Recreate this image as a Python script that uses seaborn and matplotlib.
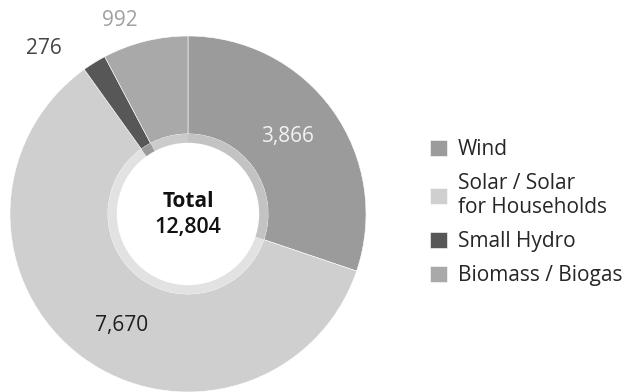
import numpy as np
import matplotlib
matplotlib.use('Agg')
import matplotlib.pyplot as plt
import seaborn as sns
from matplotlib.colors import to_rgb

# capacity by source (donut, clockwise from top)
sources = ['Wind', 'Solar / Solar\nfor Households', 'Small Hydro', 'Biomass / Biogas']
values = [3866, 7670, 276, 992]
value_labels = ['3,866', '7,670', '276', '992']

colors = ['#9b9b9b', '#cfcfcf', '#575757', '#a9a9a9']
label_colors = ['#f2f2f2', '#1e1e1e', '#444444', '#a0a0a0']

sns.set_theme(style='white')
plt.rcParams['font.family'] = ['Open Sans', 'DejaVu Sans']

fig = plt.figure(figsize=(6.29, 3.92), dpi=100)

# place the donut: centre at (188, 214) px, radius 178 px
R_PX = 178
span = 1.2
cx, cy = 188, 392 - 214
w = 2 * span * R_PX
ax = fig.add_axes([(cx - w / 2) / 629, (cy - w / 2) / 392, w / 629, w / 392])

wedges, _ = ax.pie(values, colors=colors, startangle=90, counterclock=False,
                   radius=1.0, wedgeprops=dict(width=0.55, edgecolor='white', linewidth=0.4))

# thin lighter ring just around the white centre
def lighten(c, f):
    r, g, b = to_rgb(c)
    return (r + (1 - r) * f, g + (1 - g) * f, b + (1 - b) * f)

ax.pie(values, colors=[lighten(c, 0.4) for c in colors], startangle=90, counterclock=False,
       radius=0.45, wedgeprops=dict(width=0.056, edgecolor='none'))
ax.add_patch(plt.Circle((0, 0), 0.396, color='white', zorder=3))
ax.set_xlim(-span, span)
ax.set_ylim(-span, span)
ax.set_axis_off()

ax.text(0, 0.07, 'Total', ha='center', va='center', fontsize=15, fontweight='bold', color='#111111', zorder=4)
ax.text(0, -0.075, '12,804', ha='center', va='center', fontsize=15.5, fontweight='semibold',
        color='#111111', zorder=4)

# value labels: angle offsets and radii per wedge
total = sum(values)
label_r = [0.705, 0.726, 1.236, 1.155]
label_shift = [2.2, 5.8, 9.3, 5.4]
start = 90.0
for i, v in enumerate(values):
    sweep = 360.0 * v / total
    mid = start - sweep / 2 + label_shift[i]
    a = np.deg2rad(mid)
    ax.text(label_r[i] * np.cos(a), label_r[i] * np.sin(a), value_labels[i],
            ha='center', va='center', fontsize=15, color=label_colors[i], clip_on=False)
    start -= sweep

fig.legend(wedges, sources, loc='center left', bbox_to_anchor=(430 / 629, 1 - 212.5 / 392),
           frameon=False, fontsize=15, handlelength=0.8, handleheight=0.8,
           handletextpad=0.55, labelspacing=0.62, borderpad=0, borderaxespad=0)

fig.savefig('out.png', dpi=100)
